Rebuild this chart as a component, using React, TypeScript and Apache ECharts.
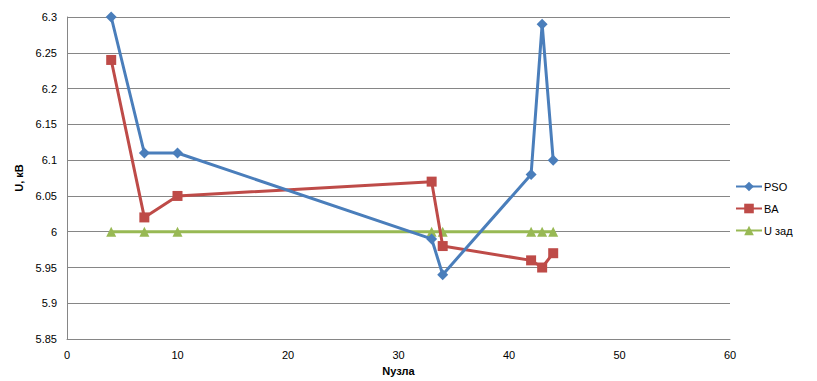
import React, { useEffect, useRef } from "react";
import * as echarts from "echarts";

const nodes = [4, 7, 10, 33, 34, 42, 43, 44];
const psoValues = [6.3, 6.11, 6.11, 5.99, 5.94, 6.08, 6.29, 6.1];
const baValues = [6.24, 6.02, 6.05, 6.07, 5.98, 5.96, 5.95, 5.97];
const uzadValues = [6, 6, 6, 6, 6, 6, 6, 6];
const seriesNames = ["PSO", "BA", "U зад"];

export default function App() {
  const ref = useRef<HTMLDivElement>(null);
  useEffect(() => {
    const chart = echarts.init(ref.current!, null, { renderer: "svg" });
    const font = "Liberation Sans";
    const mk = (vals: number[]) => nodes.map((n, i) => [n, vals[i]]);
    chart.setOption({
      animation: false,
      grid: { left: 67, right: 87, top: 17, bottom: 38 },
      legend: {
        orient: "vertical",
        left: 730,
        top: 176,
        itemGap: 11,
        itemWidth: 26,
        itemHeight: 12,
        textStyle: { fontFamily: font, fontSize: 11, color: "#000", padding: [0, 0, 0, -3] },
        data: seriesNames,
      },
      xAxis: {
        type: "value",
        min: 0,
        max: 60,
        interval: 10,
        name: "Nузла",
        nameLocation: "middle",
        nameGap: 17,
        nameTextStyle: { fontFamily: font, fontSize: 11, fontWeight: "bold", color: "#000" },
        axisLine: { lineStyle: { color: "#868686" } },
        axisTick: { show: false },
        splitLine: { show: false },
        axisLabel: { fontFamily: font, fontSize: 11, color: "#000", margin: 10 },
      },
      yAxis: {
        type: "value",
        min: 5.85,
        max: 6.3,
        interval: 0.05,
        name: "U, кВ",
        nameLocation: "middle",
        nameGap: 38,
        nameTextStyle: { fontFamily: font, fontSize: 11, fontWeight: "bold", color: "#000" },
        axisLine: { show: true, lineStyle: { color: "#868686" } },
        axisTick: { show: false },
        splitLine: { lineStyle: { color: "#868686" } },
        axisLabel: {
          fontFamily: font,
          fontSize: 11,
          color: "#000",
          margin: 10,
          formatter: (v: number) => String(parseFloat(v.toFixed(2))),
        },
      },
      series: [
        {
          name: seriesNames[0],
          type: "line",
          data: mk(psoValues),
          symbol: "diamond",
          symbolSize: 11,
          lineStyle: { color: "#4A7EBB", width: 3 },
          itemStyle: { color: "#4A7EBB" },
          z: 3,
        },
        {
          name: seriesNames[1],
          type: "line",
          data: mk(baValues),
          symbol: "rect",
          symbolSize: 10,
          lineStyle: { color: "#BE4B48", width: 3 },
          itemStyle: { color: "#BE4B48" },
          z: 2,
        },
        {
          name: seriesNames[2],
          type: "line",
          data: mk(uzadValues),
          symbol: "triangle",
          symbolSize: 10,
          lineStyle: { color: "#98B954", width: 3 },
          itemStyle: { color: "#98B954" },
          z: 1,
        },
      ],
    });
    return () => chart.dispose();
  }, []);
  return <div ref={ref} style={{ width: 817, height: 381, position: "absolute", left: 0, top: 0, background: "#fff" }} />;
}
